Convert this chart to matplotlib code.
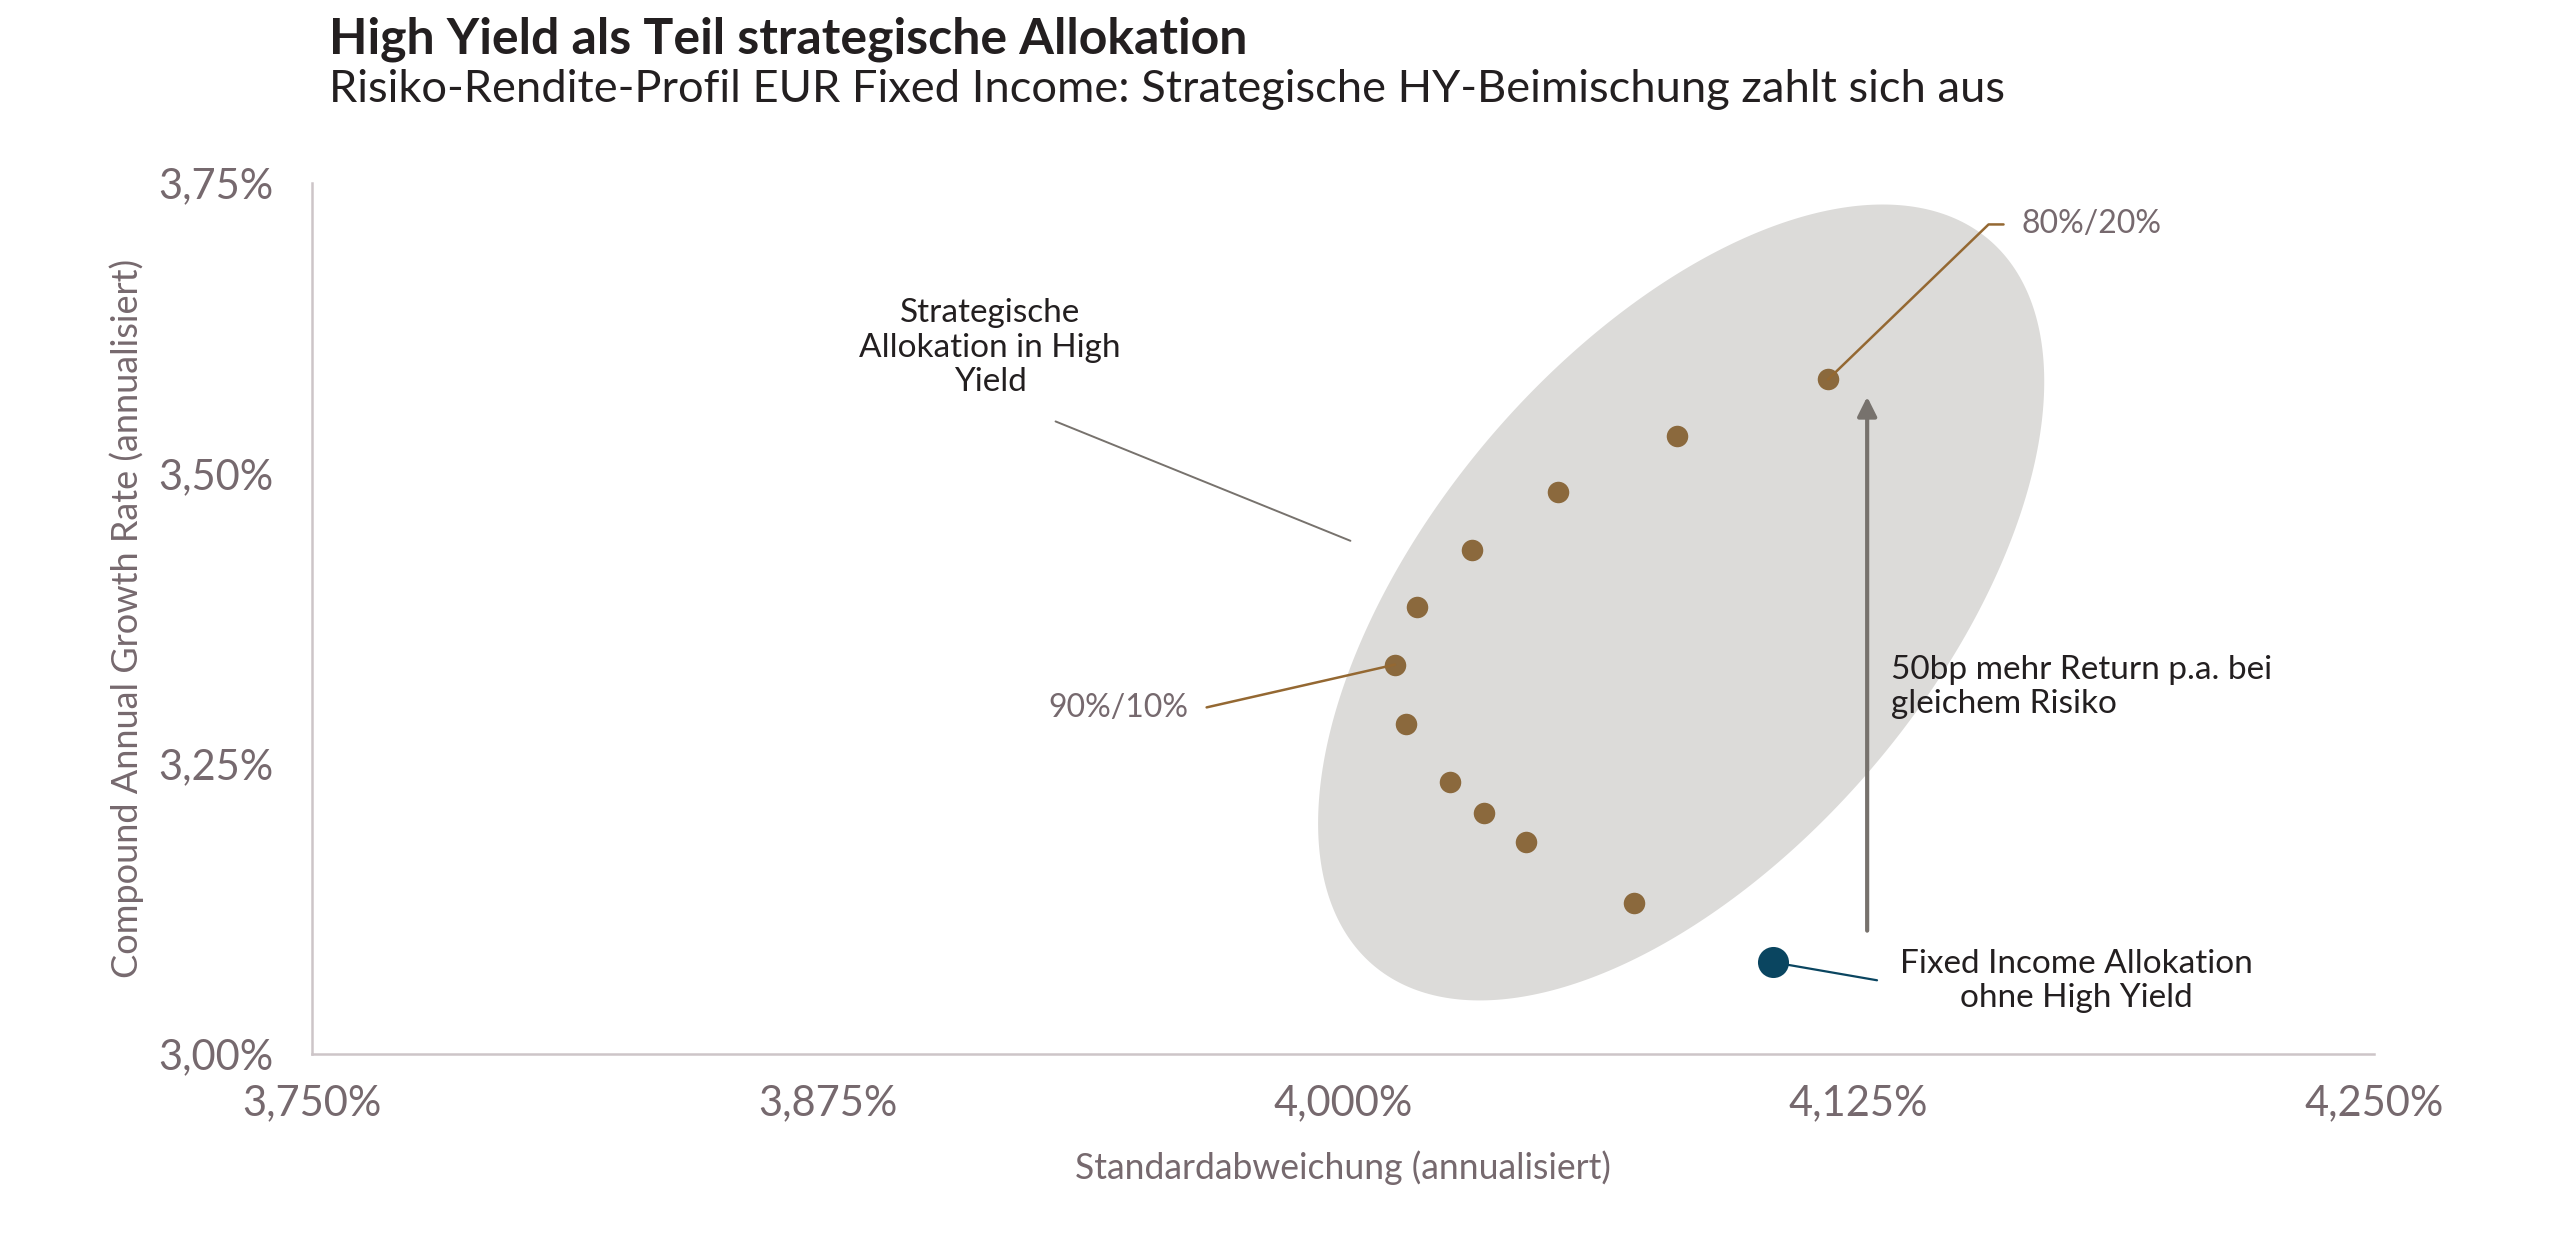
import numpy as np
import matplotlib
matplotlib.use("Agg")
import matplotlib.pyplot as plt
from matplotlib.patches import Polygon

# ---------------- data ----------------
hy_std = [4.1176, 4.0811, 4.0522, 4.0313, 4.0179, 4.0126, 4.0153, 4.0259, 4.0341, 4.0443, 4.0705]
hy_cagr = [3.5808, 3.5318, 3.4838, 3.4343, 3.3847, 3.3353, 3.2844, 3.2340, 3.2079, 3.1822, 3.1304]
fi_std = [4.1043]
fi_cagr = [3.0790]
x_ticks = [3.750, 3.875, 4.000, 4.125, 4.250]
x_ticklabels = ["3,750%", "3,875%", "4,000%", "4,125%", "4,250%"]
y_ticks = [3.00, 3.25, 3.50, 3.75]
y_ticklabels = ["3,00%", "3,25%", "3,50%", "3,75%"]
label_8020 = "80%/20%"
label_9010 = "90%/10%"
title = "High Yield als Teil strategische Allokation"
subtitle = "Risiko-Rendite-Profil EUR Fixed Income: Strategische HY-Beimischung zahlt sich aus"
xlabel = "Standardabweichung (annualisiert)"
ylabel = "Compound Annual Growth Rate (annualisiert)"
txt_hy = "Strategische\nAllokation in High\nYield"
txt_50bp = "50bp mehr Return p.a. bei\ngleichem Risiko"
txt_fi = "Fixed Income Allokation\nohne High Yield"

# ---------------- style ----------------
FONT = ["Lato", "DejaVu Sans"]
plt.rcParams["font.family"] = FONT
DARK = "#231F20"
MAUVE = "#76696E"
SPINE = "#CDC5C8"
BROWN = "#8B693D"
BROWN_LINE = "#946832"
BLUE = "#0A4560"
ELL = "#DCDBD9"
GREY_LINE = "#77726D"

W, H, DPI = 2560, 1260, 200
fig = plt.figure(figsize=(W / DPI, H / DPI), dpi=DPI)
fig.patch.set_facecolor("white")

L, R, T, B = 312, 2374, 183, 1054
ax = fig.add_axes([L / W, 1 - B / H, (R - L) / W, (B - T) / H])
ax.set_xlim(x_ticks[0], x_ticks[-1])
ax.set_ylim(y_ticks[0], y_ticks[-1])

for s in ["top", "right"]:
    ax.spines[s].set_visible(False)
for s in ["left", "bottom"]:
    ax.spines[s].set_color(SPINE)
    ax.spines[s].set_linewidth(0.9)

ax.set_xticks(x_ticks)
ax.set_xticklabels(x_ticklabels)
ax.set_yticks(y_ticks)
ax.set_yticklabels(y_ticklabels)
ax.tick_params(axis="both", length=0, labelsize=15, labelcolor=MAUVE)
ax.tick_params(axis="x", pad=11)
ax.tick_params(axis="y", pad=14)

ax.set_xlabel(xlabel, fontsize=12.8, color=MAUVE, labelpad=10)
ax.set_ylabel(ylabel, fontsize=13, color=MAUVE)
ax.yaxis.set_label_coords(-0.0814, 0.5)

# ---------------- ellipse (drawn in pixel space, mapped to data) ----------------
ppx = (R - L) / (x_ticks[-1] - x_ticks[0])
ppy = (B - T) / (y_ticks[-1] - y_ticks[0])
ecx, ecy = 4.0820, 3.3888
ea, eb, eth = 475.8, 252.6, np.deg2rad(49.7)
t = np.linspace(0, 2 * np.pi, 400)
px = ea * np.cos(t) * np.cos(eth) - eb * np.sin(t) * np.sin(eth)
py = ea * np.cos(t) * np.sin(eth) + eb * np.sin(t) * np.cos(eth)
ell = Polygon(np.column_stack([ecx + px / ppx, ecy + py / ppy]), closed=True,
              facecolor=ELL, edgecolor="none", zorder=1)
ax.add_patch(ell)

# ---------------- points ----------------
ax.scatter(hy_std, hy_cagr, s=60, color=BROWN, zorder=4, linewidths=0)
ax.scatter(fi_std, fi_cagr, s=125, color=BLUE, zorder=4, linewidths=0)

# ---------------- annotations ----------------
ax.annotate(label_8020, xy=(hy_std[0], hy_cagr[0]), xytext=(69.8, 56.9),
            textcoords="offset points", ha="left", va="center_baseline",
            fontsize=11.5, color=MAUVE, zorder=5,
            arrowprops=dict(arrowstyle="-", color=BROWN_LINE, lw=0.9,
                            connectionstyle="angle,angleA=0,angleB=44,rad=0",
                            relpos=(0, 0.5), shrinkA=4.6, shrinkB=0))

ax.annotate(label_9010, xy=(hy_std[5], hy_cagr[5]), xytext=(-74.5, -14.4),
            textcoords="offset points", ha="right", va="center_baseline",
            fontsize=11.5, color=MAUVE, zorder=5,
            arrowprops=dict(arrowstyle="-", color=BROWN_LINE, lw=0.9,
                            connectionstyle="angle,angleA=0,angleB=12.8,rad=0",
                            relpos=(1, 0.5), shrinkA=4.7, shrinkB=0))

ax.annotate(txt_fi, xy=(fi_std[0], fi_cagr[0]), xytext=(109.3, -6.8),
            textcoords="offset points", ha="center", va="center",
            fontsize=12, color=DARK, linespacing=1.15, zorder=3,
            arrowprops=dict(arrowstyle="-", color=BLUE, lw=0.8,
                            relpos=(0, 0.45), shrinkA=6.5, shrinkB=0))

# strategic allocation label + leader
ax.text(3.9144, 3.6083, txt_hy, ha="center", va="center", fontsize=12,
        color=DARK, linespacing=1.2, zorder=5)
ax.annotate("", xy=(4.0018, 3.4419), xytext=(3.9303, 3.5447),
            arrowprops=dict(arrowstyle="-", color=GREY_LINE, lw=0.7,
                            shrinkA=0, shrinkB=0))

# 50bp arrow
ax.annotate("", xy=(4.1271, 3.5659), xytext=(4.1271, 3.1062),
            arrowprops=dict(arrowstyle="-|>,head_length=0.58,head_width=0.29",
                            mutation_scale=10, color=GREY_LINE, lw=1.5,
                            shrinkA=0, shrinkB=0), zorder=3)
ax.text(4.1328, 3.3160, txt_50bp, ha="left", va="center", fontsize=12,
        color=DARK, linespacing=1.15, zorder=5)

# ---------------- titles ----------------
fig.text(329 / W, 1 - 53 / H, title, ha="left", va="baseline",
         fontsize=18, fontweight="bold", color=DARK)
fig.text(329 / W, 1 - 102 / H, subtitle, ha="left", va="baseline",
         fontsize=16.3, color=DARK)

fig.savefig("out.png", dpi=DPI, facecolor="white")
